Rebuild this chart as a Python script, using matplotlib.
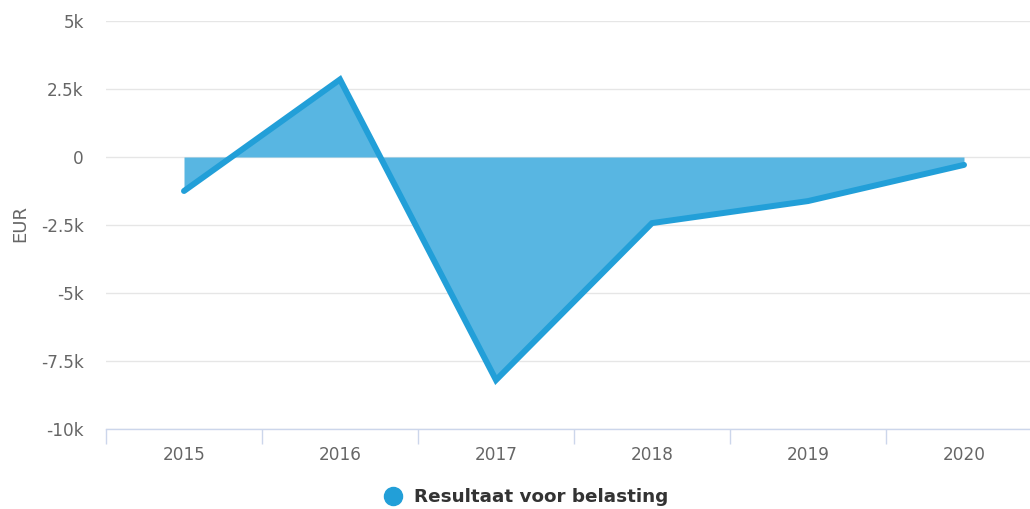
import numpy as np
import matplotlib.pyplot as plt
from matplotlib.lines import Line2D

plt.rcParams['font.family'] = ['DejaVu Sans']

years = ['2015', '2016', '2017', '2018', '2019', '2020']
resultaat = [-1250, 2850, -8200, -2430, -1620, -290]
y_ticks = [-10000, -7500, -5000, -2500, 0, 2500, 5000]
y_labels = ['-10k', '-7.5k', '-5k', '-2.5k', '0', '2.5k', '5k']

line_color = '#229fd8'
fill_color = '#58b6e2'

fig = plt.figure(figsize=(10.3, 5.09), dpi=100)
# plot area runs slightly past the right edge of the image, as in the original
ax = fig.add_axes([106 / 1030, 1 - 429 / 509, (1042 - 106) / 1030, (429 - 21) / 509])

x = np.arange(len(years))
ax.fill_between(x, resultaat, 0, color=fill_color, linewidth=0, zorder=2)
ax.plot(x, resultaat, color=line_color, linewidth=4.3, solid_capstyle='round',
        solid_joinstyle='miter', zorder=3)

ax.set_xlim(-0.5, len(years) - 0.5)
ax.set_ylim(-10000, 5000)
ax.set_yticks(y_ticks)
ax.set_yticklabels(y_labels)
ax.set_xticks(x)
ax.set_xticklabels(years)
ax.set_xticks(np.arange(-0.5, len(years), 1), minor=True)

ax.tick_params(axis='y', length=0, pad=16, labelsize=12.2, labelcolor='#666666')
ax.tick_params(axis='x', which='major', length=0, pad=12, labelsize=12.2, labelcolor='#666666')
ax.tick_params(axis='x', which='minor', length=11, width=1, color='#ccd6eb', direction='out')

ax.grid(axis='y', color='#e6e6e6', linewidth=1, zorder=0)
ax.set_axisbelow(True)
for side in ['top', 'right', 'left']:
    ax.spines[side].set_visible(False)
ax.spines['bottom'].set_color('#ccd6eb')
ax.spines['bottom'].set_linewidth(1)
ax.spines['bottom'].set_zorder(4)

fig.text(20 / 1030, 1 - 224 / 509, 'EUR', rotation=90, ha='center', va='center',
         fontsize=13, color='#666666')

handle = Line2D([], [], marker='o', linestyle='none', markersize=13,
                markerfacecolor=line_color, markeredgecolor=line_color)
fig.legend([handle], ['Resultaat voor belasting'], loc='center',
           bbox_to_anchor=(525 / 1030, 1 - 497 / 509), frameon=False,
           prop={'weight': 'bold', 'size': 13.2}, labelcolor='#333333',
           handletextpad=0.55, handlelength=1.2)

fig.savefig('out.png', dpi=100)
